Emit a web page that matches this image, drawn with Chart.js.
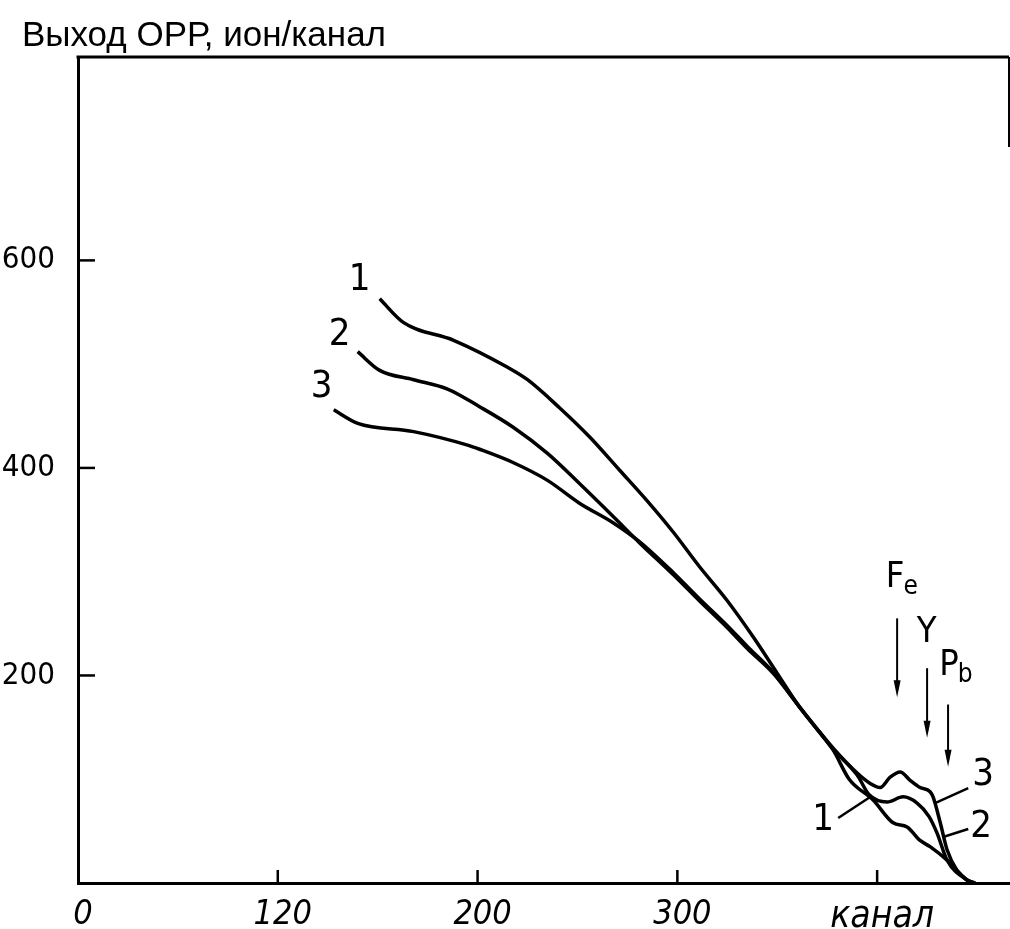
<!DOCTYPE html>
<html>
<head>
<meta charset="utf-8">
<script src="https://cdn.jsdelivr.net/npm/chart.js@4.4.1/dist/chart.umd.min.js"></script>
<style>
  html, body { margin: 0; padding: 0; background: #fff; }
  #wrap { width: 1010px; height: 929px; position: relative; }
</style>
</head>
<body>
<div id="wrap"><canvas id="c" width="1010" height="929"></canvas></div>
<script>
// ---------- data ----------
const titleText = 'Выход ОРР, ион/канал';
const xTickValues = [0, 100, 200, 300, 400];
const xTickLabels = ['0', '120', '200', '300', 'канал'];
const yTickValues = [200, 400, 600];
const yTickLabels = ['200', '400', '600'];

const curve1Channels = [151, 163, 188, 215, 225, 241, 256, 271, 285, 298, 311, 325, 338, 350, 361, 378, 386, 398, 408, 415, 421.5, 426.5, 435, 445, 449];
const curve1Values   = [563, 540, 523, 497, 485, 458, 430, 398, 368, 338, 305, 272, 237, 202, 170, 128, 100, 80, 58, 54, 41, 35, 22, 3, 0];

const curve2Channels = [140, 151, 168, 185, 201, 218, 235, 251, 268, 281, 298, 311, 325, 335, 348, 361, 378, 390, 396, 405, 413, 420, 426, 430, 435, 445, 449];
const curve2Values   = [512, 494, 485, 476, 459, 439, 414, 385, 353, 328, 297, 272, 246, 226, 202, 170, 129, 104, 85, 78, 83, 77, 64, 48, 22, 3, 0];

const curve3Channels = [128, 140, 168, 195, 201, 218, 235, 251, 268, 281, 298, 311, 325, 335, 348, 361, 378, 390, 396.5, 401.5, 406.5, 411.5, 416.5, 421.5, 426.5, 428, 431.6, 435, 440, 446.6];
const curve3Values   = [456, 443, 435, 422, 418, 405, 388, 366, 347, 329, 299, 274, 248, 228, 203, 170, 130, 106, 96, 92, 102, 107, 99, 92, 88, 83, 58, 32, 12, 0];

// annotation anchors in data units (channel, yield)
const curveTagTexts = ['1', '2', '3', '3', '2', '1'];
const curveTagX     = [141, 131, 122, 453, 452, 373];
const curveTagY     = [581, 528, 478, 104, 54, 61];
const leaderLines   = [[445.6, 91.5, 429, 77], [445.6, 52, 433, 44.3], [380.5, 62.6, 396.5, 82.9]];
const arrowX        = [410, 425, 435.5];
const arrowTop      = [255, 207, 172];
const arrowBottom   = [179, 140, 112];
const elemMain      = ['F', 'Y', 'P'];
const elemSub       = ['e', '', 'b'];
const elemX         = [409, 424.8, 436];
const elemY         = [294, 241, 209];

const FONT = "'Liberation Sans Narrow', 'DejaVu Sans Condensed', 'Liberation Sans', sans-serif";

function pts(xs, ys) { return xs.map((x, i) => ({ x: x, y: ys[i] })); }

const extras = {
  id: 'extras',
  afterDraw(chart) {
    const { ctx, chartArea: ca, scales: { x, y } } = chart;
    ctx.save();
    ctx.strokeStyle = '#000';
    ctx.fillStyle = '#000';
    ctx.lineCap = 'butt';
    // title
    ctx.font = "35px 'Liberation Sans', 'DejaVu Sans', sans-serif";
    ctx.textAlign = 'left';
    ctx.textBaseline = 'alphabetic';
    ctx.fillText(titleText, 22, 46);
    // frame top and right
    ctx.lineWidth = 3;
    ctx.beginPath();
    ctx.moveTo(ca.left - 1.5, ca.top);
    ctx.lineTo(ca.right, ca.top);
    ctx.stroke();
    ctx.lineWidth = 2;
    ctx.beginPath();
    ctx.moveTo(ca.right, ca.top);
    ctx.lineTo(ca.right, ca.top + 90);
    ctx.stroke();
    // inward tick stubs
    ctx.lineWidth = 2.5;
    yTickValues.forEach(v => {
      const py = y.getPixelForValue(v);
      ctx.beginPath(); ctx.moveTo(ca.left, py); ctx.lineTo(ca.left + 17, py); ctx.stroke();
    });
    xTickValues.forEach(v => {
      if (v === 0) return;
      const px = x.getPixelForValue(v);
      ctx.beginPath(); ctx.moveTo(px, ca.bottom); ctx.lineTo(px, ca.bottom - 13); ctx.stroke();
    });
    // curve number tags
    ctx.textAlign = 'center';
    ctx.textBaseline = 'middle';
    ctx.font = "38px " + FONT;
    curveTagTexts.forEach((t, i) => {
      ctx.fillText(t, x.getPixelForValue(curveTagX[i]), y.getPixelForValue(curveTagY[i]));
    });
    // leader lines
    ctx.lineWidth = 2.5;
    leaderLines.forEach(l => {
      ctx.beginPath();
      ctx.moveTo(x.getPixelForValue(l[0]), y.getPixelForValue(l[1]));
      ctx.lineTo(x.getPixelForValue(l[2]), y.getPixelForValue(l[3]));
      ctx.stroke();
    });
    // arrows
    arrowX.forEach((ax, i) => {
      const px = x.getPixelForValue(ax);
      const p1 = y.getPixelForValue(arrowTop[i]);
      const p2 = y.getPixelForValue(arrowBottom[i]);
      ctx.lineWidth = 2;
      ctx.beginPath(); ctx.moveTo(px, p1); ctx.lineTo(px, p2 - 6); ctx.stroke();
      ctx.beginPath();
      ctx.moveTo(px - 3.5, p2 - 17);
      ctx.lineTo(px + 3.5, p2 - 17);
      ctx.lineTo(px, p2);
      ctx.closePath();
      ctx.fill();
    });
    // element labels
    elemMain.forEach((m, i) => {
      const px = x.getPixelForValue(elemX[i]);
      const py = y.getPixelForValue(elemY[i]);
      ctx.font = "36px " + FONT;
      ctx.textAlign = 'center';
      ctx.fillText(m, px, py);
      if (elemSub[i]) {
        const w = ctx.measureText(m).width;
        ctx.font = "26px " + FONT;
        ctx.textAlign = 'left';
        ctx.fillText(elemSub[i], px + w / 2 - 1, py + 9);
      }
    });
    ctx.restore();
  }
};

const lineStyle = { borderColor: '#000', borderWidth: 3.5, pointRadius: 0, fill: false, cubicInterpolationMode: 'monotone' };

new Chart(document.getElementById('c'), {
  type: 'line',
  data: {
    datasets: [
      Object.assign({ label: '1', data: pts(curve1Channels, curve1Values) }, lineStyle),
      Object.assign({ label: '2', data: pts(curve2Channels, curve2Values) }, lineStyle),
      Object.assign({ label: '3', data: pts(curve3Channels, curve3Values) }, lineStyle)
    ]
  },
  options: {
    responsive: false,
    animation: false,
    events: [],
    layout: { padding: { left: 0, right: 1, top: 57, bottom: 0 } },
    plugins: {
      legend: { display: false },
      tooltip: { enabled: false },
      title: { display: false }
    },
    scales: {
      x: {
        type: 'linear',
        min: 0,
        max: 466,
        grid: { display: false, drawTicks: false },
        border: { display: true, color: '#000', width: 3 },
        afterBuildTicks: s => { s.ticks = xTickValues.map(v => ({ value: v })); },
        afterFit: s => { s.height = 46; },
        ticks: {
          autoSkip: false,
          maxRotation: 0,
          color: '#000',
          padding: 12,
          labelOffset: 5,
          callback: (v, i) => xTickLabels[i],
          font: c => (c.index === 4
            ? { family: FONT, size: 37, style: 'italic' }
            : { family: FONT, size: 34, style: 'italic' })
        }
      },
      y: {
        type: 'linear',
        min: 0,
        max: 796,
        grid: { display: false, drawTicks: false },
        border: { display: true, color: '#000', width: 3 },
        afterBuildTicks: s => { s.ticks = yTickValues.map(v => ({ value: v })); },
        afterFit: s => { s.width = 78; },
        ticks: {
          color: '#000',
          padding: 23,
          callback: (v, i) => yTickLabels[i],
          font: { family: FONT, size: 31 }
        }
      }
    }
  },
  plugins: [extras]
});
</script>
</body>
</html>
